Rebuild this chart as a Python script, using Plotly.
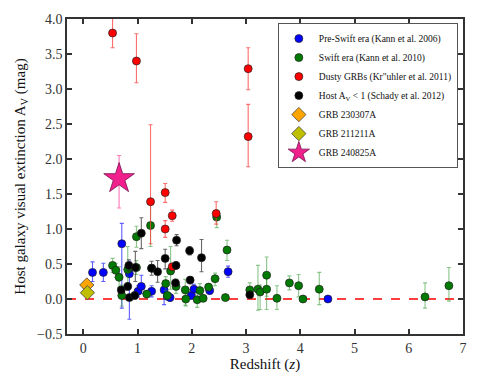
import plotly.graph_objects as go

# ---------------- data ----------------
pre_z = [0.17, 0.37, 0.71, 0.85, 1.01, 1.07, 1.26, 1.49, 1.55, 1.60, 1.99, 2.04, 2.33, 2.67, 4.51]
pre_av = [0.38, 0.38, 0.79, 0.36, 0.11, 0.18, 0.11, 0.13, 0.04, 0.02, 0.05, 0.14, 0.12, 0.39, 0.00]
pre_ep = [0.15, 0.13, 0.29, 0.18, 0.08, 0.16, 0.08, 0.10, 0.05, 0.05, 0.05, 0.07, 0.05, 0.08, 0.00]
pre_em = [0.13, 0.13, 0.92, 0.65, 0.08, 0.10, 0.08, 0.21, 0.05, 0.05, 0.05, 0.07, 0.05, 0.08, 0.00]

swift_z = [0.54, 0.60, 0.66, 0.71, 0.82, 0.98, 0.98, 1.17, 1.24, 1.26, 1.61, 1.52, 1.55, 1.71,
           1.88, 1.89, 2.10, 2.15, 2.21, 2.31, 2.43, 2.46, 2.62, 2.65, 3.07, 3.22, 3.26, 3.38,
           3.38, 3.57, 3.80, 3.97, 4.05, 4.35, 6.30, 6.74]
swift_av = [0.48, 0.41, 0.31, 0.05, 0.42, 0.45, 0.89, 0.07, 1.05, 0.44, 0.40, 0.22, 0.05, 0.18,
            0.13, 0.00, -0.01, 0.12, 0.01, 0.17, 0.29, 1.17, 0.02, 0.70, 0.13, 0.14, 0.10, 0.34,
            0.14, 0.01, 0.23, 0.19, 0.00, 0.14, 0.03, 0.19]
swift_ep = [0.10, 0.10, 0.15, 0.15, 0.33, 0.10, 0.15, 0.05, 0.35, 0.05, 0.35, 0.10, 0.05, 0.10,
            0.15, 0.10, 0.10, 0.10, 0.05, 0.05, 0.08, 0.10, 0.03, 0.14, 0.10, 0.34, 0.10, 0.26,
            0.15, 0.18, 0.10, 0.16, 0.02, 0.24, 0.20, 0.26]
swift_em = [0.10, 0.10, 0.15, 0.15, 0.20, 0.10, 0.15, 0.05, 0.30, 0.05, 0.26, 0.10, 0.05, 0.10,
            0.22, 0.10, 0.11, 0.10, 0.05, 0.05, 0.10, 0.15, 0.03, 0.15, 0.10, 0.30, 0.25, 0.30,
            0.29, 0.16, 0.10, 0.16, 0.02, 0.22, 0.16, 0.22]

dusty_z = [0.54, 0.98, 1.24, 1.51, 1.51, 1.64, 1.64, 2.45, 3.04, 3.04]
dusty_av = [3.80, 3.40, 1.39, 1.52, 1.00, 1.19, 0.46, 1.22, 3.29, 2.32]
dusty_ep = [0.40, 0.39, 1.10, 0.13, 0.12, 0.08, 0.03, 0.17, 0.30, 0.46]
dusty_em = [0.21, 0.31, 0.60, 0.14, 0.12, 0.08, 0.03, 0.15, 0.30, 0.43]

host_z = [0.70, 0.82, 0.84, 0.85, 0.95, 0.96, 1.07, 1.26, 1.37, 1.51, 1.72, 1.71, 1.70, 1.97,
          1.96, 2.18, 3.07]
host_av = [0.13, 0.18, 0.48, 0.02, 0.05, 0.45, 0.94, 0.44, 0.39, 0.58, 0.84, 0.48, 0.23, 0.27,
           0.69, 0.59, 0.06]
host_ep = [0.05, 0.05, 0.08, 0.03, 0.05, 0.23, 0.22, 0.10, 0.16, 0.13, 0.08, 0.05, 0.05, 0.05,
           0.06, 0.26, 0.03]
host_em = [0.05, 0.05, 0.08, 0.03, 0.05, 0.20, 0.22, 0.10, 0.15, 0.15, 0.08, 0.05, 0.05, 0.05,
           0.06, 0.20, 0.03]

grb230307_z = [0.065]
grb230307_av = [0.20]
grb211211_z = [0.076]
grb211211_av = [0.09]
grb240825_z = [0.66]
grb240825_av = [1.72]
grb240825_ep = [0.33]
grb240825_em = [0.42]

x_ticks = [0, 1, 2, 3, 4, 5, 6, 7]
y_ticks = [-0.5, 0, 0.5, 1.0, 1.5, 2.0, 2.5, 3.0, 3.5, 4.0]

FONT = "Liberation Serif"

fig = go.Figure()


def add_series(name, z, av, ep, em, color, ecolor):
    fig.add_trace(go.Scatter(
        x=z, y=av, mode="markers", name=name,
        marker=dict(symbol="circle", size=8, color=color,
                    line=dict(color="#222222", width=0.7)),
        error_y=dict(type="data", symmetric=False, array=ep, arrayminus=em,
                     color=ecolor, thickness=1.1, width=2),
    ))


add_series("Pre-Swift era (Kann et al. 2006)", pre_z, pre_av, pre_ep, pre_em,
           "#0000ff", "rgba(40,40,255,0.75)")
add_series("Swift era (Kann et al. 2010)", swift_z, swift_av, swift_ep, swift_em,
           "#007a00", "rgba(40,150,40,0.55)")
add_series("Dusty GRBs (Kr\"uhler et al. 2011)", dusty_z, dusty_av, dusty_ep, dusty_em,
           "#ff0000", "rgba(255,60,60,0.75)")
add_series("Host A<sub>V</sub> &lt; 1 (Schady et al. 2012)", host_z, host_av, host_ep, host_em,
           "#000000", "rgba(40,40,40,0.7)")

fig.add_trace(go.Scatter(
    x=grb230307_z, y=grb230307_av, mode="markers", name="GRB 230307A",
    marker=dict(symbol="diamond", size=11, color="#ffa500",
                line=dict(color="#444444", width=0.8)),
))
fig.add_trace(go.Scatter(
    x=grb211211_z, y=grb211211_av, mode="markers", name="GRB 211211A",
    marker=dict(symbol="diamond", size=11, color="#bfbf00",
                line=dict(color="#444444", width=0.8)),
))
fig.add_trace(go.Scatter(
    x=grb240825_z, y=grb240825_av, mode="markers", name="GRB 240825A",
    marker=dict(symbol="star", size=23, color="#f0208c",
                line=dict(color="#7a1050", width=0.8)),
    error_y=dict(type="data", symmetric=False, array=grb240825_ep, arrayminus=grb240825_em,
                 color="rgba(255,100,170,0.85)", thickness=1.1, width=2),
))

# zero reference line
fig.add_shape(type="line", xref="paper", x0=0, x1=1, yref="y", y0=0, y1=0,
              line=dict(color="#ff0000", width=1.6, dash="dash"), layer="below")

axis_common = dict(
    showline=True, linecolor="#333333", linewidth=1.5, mirror="ticks",
    ticks="inside", ticklen=5, tickwidth=1.5, tickcolor="#333333",
    showgrid=False, zeroline=False, automargin=False,
    tickfont=dict(family=FONT, size=14, color="#333333"),
)

fig.update_layout(
    width=470, height=375,
    margin=dict(l=59, r=15, t=11, b=49),
    paper_bgcolor="white", plot_bgcolor="white",
    font=dict(family=FONT, color="#222222"),
    showlegend=True,
    legend=dict(
        x=0.987, y=0.987, xanchor="right", yanchor="top",
        bgcolor="white", bordercolor="#555555", borderwidth=1,
        font=dict(family=FONT, size=9.5, color="#111111"),
        itemsizing="trace", itemwidth=30, tracegroupgap=0,
    ),
    xaxis=dict(
        range=[-0.3, 7.0], tickmode="array", tickvals=x_ticks,
        title=dict(text="Redshift (<i>z</i>)", font=dict(family=FONT, size=15, color="#111111"),
                   standoff=4),
        **axis_common,
    ),
    yaxis=dict(
        range=[-0.5, 4.0], tickmode="array", tickvals=y_ticks, tickformat=".1f",
        title=dict(text="Host galaxy visual extinction A<sub>V</sub> (mag)",
                   font=dict(family=FONT, size=15, color="#111111"), standoff=8),
        **axis_common,
    ),
)

fig.write_html("out.html")
